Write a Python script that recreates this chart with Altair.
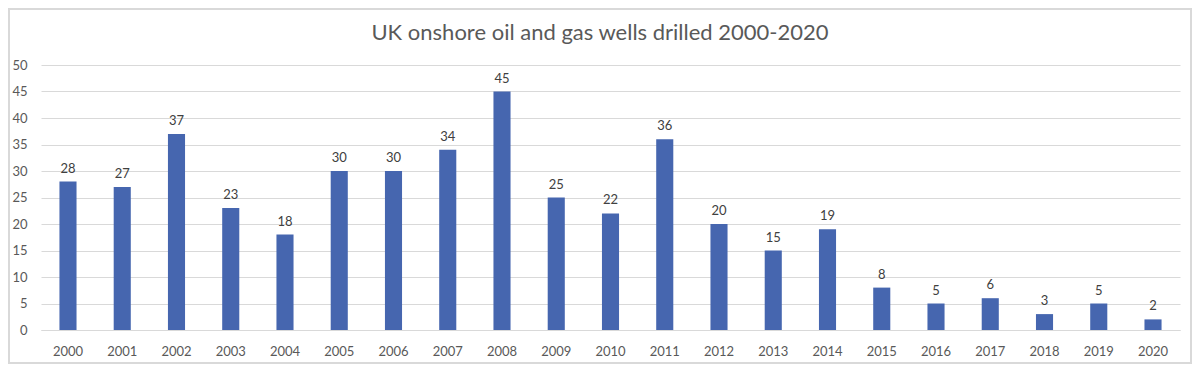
import altair as alt
import pandas as pd

years = [str(y) for y in range(2000, 2021)]
wells = [28, 27, 37, 23, 18, 30, 30, 34, 45, 25, 22, 36, 20, 15, 19, 8, 5, 6, 3, 5, 2]
y_ticks = [0, 5, 10, 15, 20, 25, 30, 35, 40, 45, 50]
title_text = "UK onshore oil and gas wells drilled 2000-2020"

df = pd.DataFrame({"year": years, "wells": wells})

FONT = "Lato"
W, H = 1139, 265

x = alt.X("year:N", sort=years, title=None,
          scale=alt.Scale(paddingInner=0.685, paddingOuter=0.34),
          axis=alt.Axis(labelAngle=0, ticks=False, domain=True, domainColor="#d9d9d9",
                        labelPadding=15, labelFontSize=13, labelColor="#595959", labelFont=FONT))
y = alt.Y("wells:Q", title=None,
          scale=alt.Scale(domain=[0, 50], nice=False),
          axis=alt.Axis(values=y_ticks, ticks=False, domain=False, gridColor="#d9d9d9",
                        labelPadding=14, labelFontSize=13, labelColor="#595959", labelFont=FONT))

bars = alt.Chart(df).mark_bar(color="#4666AF").encode(x=x, y=y)
labels = alt.Chart(df).mark_text(dy=-13, fontSize=13, color="#404040", font=FONT).encode(
    x=x, y=y, text="wells:Q")

border = alt.Chart(df).mark_rect(fill=None, stroke="#d9d9d9", strokeWidth=1.5).encode(
    x=alt.value(-32), x2=alt.value(W + 11), y=alt.value(-56), y2=alt.value(H + 33))

title = alt.Chart(pd.DataFrame({"t": [title_text]})).mark_text(
    fontSize=22, font=FONT, color="#595959", baseline="middle", align="center").encode(
    x=alt.value(559), y=alt.value(-32), text="t:N")

chart = alt.layer(border, bars, labels, title).properties(
    width=W, height=H,
    autosize=alt.AutoSizeParams(type="none"),
    padding={"left": 33, "top": 57, "right": 12, "bottom": 34},
).configure_view(stroke=None)

chart.save("out.html", embed_options={"renderer": "svg", "actions": False})
